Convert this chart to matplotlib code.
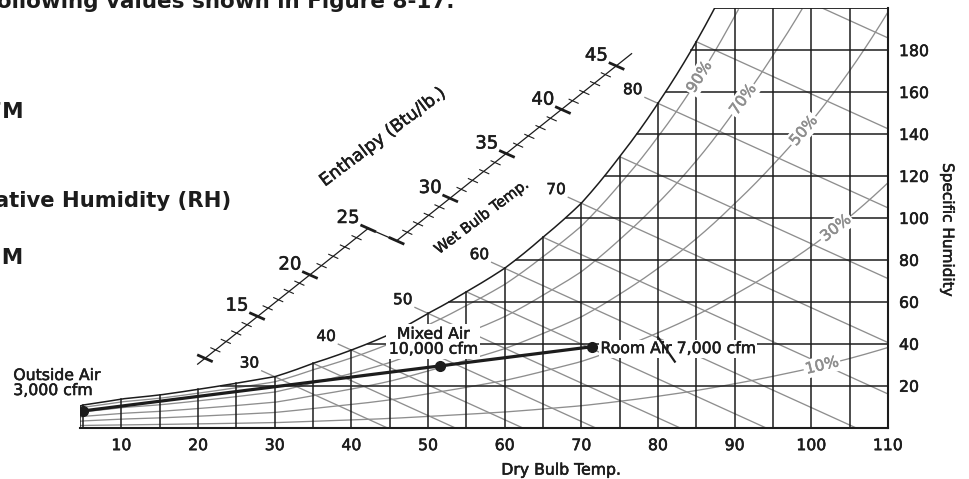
import numpy as np
import matplotlib
matplotlib.use("Agg")
import matplotlib.pyplot as plt
import matplotlib.patheffects as pe

plt.rcParams['font.family'] = ['DejaVu Sans']

# saturation humidity (grains/lb)
sat_t = [4.6, 5, 10, 15, 20, 25, 30, 35, 40, 45, 50, 55, 60, 65, 70, 75, 80, 85, 90, 95, 100, 105, 110]
sat_w = [10.3, 10.8, 13.7, 15.6, 18.3, 21.2, 24.3, 30.7, 37.0, 44.5, 54.5, 64.8, 76.0, 90.8, 107, 129.2, 154.6, 184, 219, 258, 302, 354, 415]

x_ticks = [10, 20, 30, 40, 50, 60, 70, 80, 90, 100, 110]
y_ticks = [20, 40, 60, 80, 100, 120, 140, 160, 180]
db_grid = list(range(5, 110, 5))
w_grid = list(range(20, 200, 20))

rh_levels = [90, 70, 50, 30, 10]
rh_label_t = [85.4, 91.1, 99.0, 103.2, 101.4]

wb_lines = list(range(30, 95, 5))
wb_labels = [30, 40, 50, 60, 70, 80]
wb_slope = -1.66   # grains per deg F along a wet bulb line

# enthalpy scale: value -> position on chart (dry bulb, grains)
h_seg1_val = [10, 15, 20, 25]
h_seg1_t = [20.9, 27.7, 34.6, 42.2]
h_seg1_w = [33.1, 53.2, 72.8, 95.0]
h_seg2_val = [25, 30, 35, 40, 45]
h_seg2_t = [45.9, 52.9, 60.3, 67.6, 74.6]
h_seg2_w = [89.1, 109.3, 130.5, 151.4, 172.4]
h_labels = [15, 20, 25, 30, 35, 40, 45]

# mixing process
air_names = ["Outside Air\n3,000 cfm", "Mixed Air\n10,000 cfm", "Room Air 7,000 cfm"]
air_t = [5, 51.6, 71.4]
air_w = [8.0, 29.4, 38.6]
mark_t = [80.0, 82.2]
mark_w = [43.1, 31.5]

BLACK = '#1c1c1c'
GREY = '#8e8e8e'
heavy = [pe.withStroke(linewidth=0.4, foreground=BLACK)]
heavy_grey = [pe.withStroke(linewidth=0.4, foreground=GREY)]


def wsat(t):
    return np.exp(np.interp(t, sat_t, np.log(sat_w)))


def w_rh(t, rh):
    r = wsat(t) / (4354.0 + wsat(t))
    phi = rh / 100.0
    return 4354.0 * phi * r / (1 - phi * r)


fig = plt.figure(figsize=(9.69, 4.79), dpi=100)
ax = fig.add_axes([80 / 969, 51.3 / 479, 807.9 / 969, 419.6 / 479])
ax.set_xlim(4.6, 110)
ax.set_ylim(0, 200)
for s in ['left', 'top']:
    ax.spines[s].set_visible(False)
for s in ['bottom', 'right']:
    ax.spines[s].set_color(BLACK)
    ax.spines[s].set_linewidth(1.5)

t_fine = np.linspace(4.6, 110, 800)
t_top = float(np.interp(np.log(200), np.log(sat_w), sat_t))

# grid
for t in db_grid:
    ax.plot([t, t], [0, min(wsat(t), 200)], color=BLACK, lw=1.1, zorder=3)
for w in w_grid:
    ax.plot([np.interp(np.log(w), np.log(sat_w), sat_t), 110], [w, w], color=BLACK, lw=1.1, zorder=3)

# saturation curve and frame
ts = t_fine[t_fine <= t_top]
ax.plot(np.append(ts, t_top), np.append(wsat(ts), 200), color=BLACK, lw=1.1, zorder=4)
ax.plot([t_top, 110], [200, 200], color=BLACK, lw=1.3, zorder=4)
ax.plot([4.6, 4.6], [0, wsat(4.6)], color=BLACK, lw=1.1, zorder=4)

# relative humidity curves
for rh, tl in zip(rh_levels, rh_label_t):
    w = w_rh(t_fine, rh)
    m = w <= 200
    ax.plot(t_fine[m], w[m], color=GREY, lw=0.95, zorder=2)
    p0 = ax.transData.transform((tl - 0.5, w_rh(tl - 0.5, rh)))
    p1 = ax.transData.transform((tl + 0.5, w_rh(tl + 0.5, rh)))
    ang = np.degrees(np.arctan2(p1[1] - p0[1], p1[0] - p0[0]))
    ax.text(tl, w_rh(tl, rh), f"{rh}%", color=GREY, fontsize=11, rotation=ang,
            rotation_mode='anchor', ha='center', va='center', zorder=6,
            path_effects=heavy_grey,
            bbox=dict(boxstyle='square,pad=0.12', fc='white', ec='none'))

# wet bulb lines, straight from the saturation curve
for t0 in wb_lines:
    w0 = wsat(t0)
    tt = np.array([t0, t0 - w0 / wb_slope])
    ww = np.array([w0, 0.0])
    if tt[1] > 110:
        tt[1], ww[1] = 110, w0 + wb_slope * (110 - t0)
    if w0 > 200:
        tt[0], ww[0] = t0 + (200 - w0) / wb_slope, 200
    ax.plot(tt, ww, color=GREY, lw=0.95, zorder=2)
    if t0 in wb_labels:
        ax.plot([t0, t0 - 1.7], [w0, w0 - 1.7 * wb_slope], color=GREY, lw=0.95,
                zorder=2, clip_on=False)
        ax.text(t0 - 3.3, w0 + 6.5, str(t0), fontsize=11, color=BLACK,
                ha='center', va='center', path_effects=heavy)

# enthalpy scale
to_disp = ax.transData.transform
to_data = ax.transData.inverted().transform
tick_dir = np.array([np.cos(np.radians(24)), -np.sin(np.radians(24))])


def draw_scale(vals, ts_, ws_, ext0, ext1):
    pts = to_disp(np.column_stack([ts_, ws_]))
    d0 = (pts[1] - pts[0]) / (vals[1] - vals[0])
    d1 = (pts[-1] - pts[-2]) / (vals[-1] - vals[-2])
    a = pts[0] - d0 * ext0
    b = pts[-1] + d1 * ext1
    line = to_data(np.array([a, b]))
    ax.plot(line[:, 0], line[:, 1], color=BLACK, lw=0.9, clip_on=False, zorder=5)
    for v in range(vals[0], vals[-1] + 1):
        px = np.interp(v, vals, pts[:, 0])
        py = np.interp(v, vals, pts[:, 1])
        big = v % 5 == 0
        half = 8.5 if big else 5.5
        seg = to_data(np.array([[px, py] - tick_dir * half, [px, py] + tick_dir * half]))
        ax.plot(seg[:, 0], seg[:, 1], color=BLACK, lw=2.0 if big else 0.8,
                clip_on=False, zorder=5, solid_capstyle='butt')
    return pts


p1 = draw_scale(h_seg1_val, h_seg1_t, h_seg1_w, 0.7, 0.0)
p2 = draw_scale(h_seg2_val, h_seg2_t, h_seg2_w, 0.0, 1.4)
jog = to_data(np.array([p1[-1] + tick_dir * 8.5, p2[0]]))
ax.plot(jog[:, 0], jog[:, 1], color=BLACK, lw=0.9, clip_on=False, zorder=5)
lab_t = h_seg1_t[1:] + h_seg2_t[1:]
lab_w = h_seg1_w[1:] + h_seg2_w[1:]
for v, t, w in zip(h_labels, lab_t, lab_w):
    ax.annotate(str(v), (t, w), xytext=(-14.5, 7.5), textcoords='offset points',
                ha='center', va='center', fontsize=13, color=BLACK, path_effects=heavy)

ax.text(44.1, 138.6, "Enthalpy (Btu/lb.)", fontsize=12.5, rotation=37,
        rotation_mode='anchor', ha='center', va='center', color=BLACK, path_effects=heavy)
ax.text(57.0, 100.6, "Wet Bulb Temp.", fontsize=10.5, rotation=37,
        rotation_mode='anchor', ha='center', va='center', color=BLACK, path_effects=heavy)

# mixing line
ax.plot([air_t[0], air_t[2]], [air_w[0], air_w[2]], color=BLACK, lw=2.3, zorder=7,
        solid_capstyle='round')
ax.plot(air_t, air_w, 'o', color=BLACK, ms=7, zorder=8)
ax.plot(mark_t, mark_w, color=BLACK, lw=1.6, zorder=9)
ax.text(-4.1, 21.3, air_names[0], fontsize=11.3, ha='left', va='center', color=BLACK,
        linespacing=1.0, path_effects=heavy)
ax.text(50.7, 41.0, air_names[1], fontsize=11.3, ha='center', va='center', color=BLACK,
        linespacing=1.0, zorder=6, path_effects=heavy,
        bbox=dict(boxstyle='square,pad=0.15', fc='white', ec='none'))
ax.text(72.5, 37.7, air_names[2], fontsize=11.3, ha='left', va='center', color=BLACK,
        zorder=6, path_effects=heavy,
        bbox=dict(boxstyle='square,pad=0.1', fc='white', ec='none'))

# axes labels and ticks
ax.set_xticks(x_ticks)
ax.set_yticks(y_ticks)
ax.yaxis.tick_right()
ax.tick_params(axis='x', length=0, pad=7.5, labelsize=11.3, labelcolor=BLACK)
ax.tick_params(axis='y', length=0, pad=8, labelsize=11.3, labelcolor=BLACK)
for lab in ax.get_xticklabels() + ax.get_yticklabels():
    lab.set_path_effects(heavy)
ax.text(67.4, -20.2, "Dry Bulb Temp.", fontsize=11.3, ha='center', va='center', color=BLACK,
        path_effects=heavy)
ax.text(117.8, 94.2, "Specific Humidity", fontsize=11, rotation=270, ha='center',
        va='center', color=BLACK, path_effects=heavy)

# page text around the figure
fig.text(455 / 969, 1 - 8.5 / 479, "the following values shown in Figure 8-17.", fontsize=15.5,
         fontweight='bold', ha='right', va='baseline', color=BLACK)
fig.text(23.5 / 969, 1 - 118 / 479, "Outside Air CFM", fontsize=15.5, fontweight='bold',
         ha='right', va='baseline', color=BLACK)
fig.text(231.7 / 969, 1 - 206.7 / 479, "Relative Humidity (RH)", fontsize=15.2,
         fontweight='bold', ha='right', va='baseline', color=BLACK)
fig.text(23.5 / 969, 1 - 264 / 479, "Mixed Air CFM", fontsize=15.5, fontweight='bold',
         ha='right', va='baseline', color=BLACK)

fig.savefig("out.png", dpi=100)
